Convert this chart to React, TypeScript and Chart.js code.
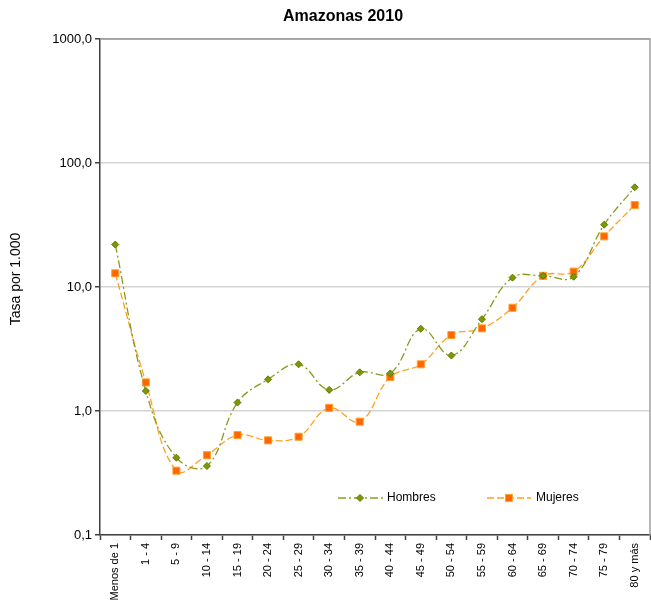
import React, { useEffect, useRef } from "react";
import { Chart, registerables } from "chart.js";

Chart.register(...registerables);

const categories = [
  "Menos de 1", "1 - 4", "5 - 9", "10 - 14", "15 - 19", "20 - 24", "25 - 29",
  "30 - 34", "35 - 39", "40 - 44", "45 - 49", "50 - 54", "55 - 59", "60 - 64",
  "65 - 69", "70 - 74", "75 - 79", "80 y más",
];
const hombres = [22.0, 1.45, 0.42, 0.36, 1.17, 1.8, 2.38, 1.48, 2.05, 2.01, 4.6, 2.8, 5.5, 11.9, 12.3, 12.1, 31.8, 63.7];
const mujeres = [12.9, 1.7, 0.33, 0.44, 0.64, 0.58, 0.62, 1.06, 0.82, 1.88, 2.38, 4.1, 4.64, 6.8, 12.3, 13.3, 25.6, 45.8];
const yTicks = [0.1, 1, 10, 100, 1000];
const title = "Amazonas 2010";
const yTitle = "Tasa por 1.000";

const FONT = "'Liberation Sans', Arial, sans-serif";
const H_LINE = "#8A9A1E";
const H_FILL = "#7A9A00";
const H_BORDER = "#5E7800";
const M_LINE = "#FFA020";
const M_FILL = "#FF6600";
const M_BORDER = "#FFA030";
const H_DASH = [8, 3, 2, 3];
const M_DASH = [7, 3];

const decorPlugin = {
  id: "decor",
  afterDraw(chart: any) {
    const ctx = chart.ctx;
    const a = chart.chartArea;
    ctx.save();
    ctx.strokeStyle = "#A0A0A0";
    ctx.lineWidth = 1.5;
    ctx.beginPath();
    ctx.moveTo(a.left, a.top);
    ctx.lineTo(a.right, a.top);
    ctx.lineTo(a.right, a.bottom);
    ctx.stroke();
    ctx.fillStyle = "#000";
    ctx.font = `bold 16px ${FONT}`;
    ctx.textAlign = "center";
    ctx.textBaseline = "middle";
    ctx.fillText(title, 343, 17);
    ctx.font = `14px ${FONT}`;
    ctx.translate(16, 279);
    ctx.rotate(-Math.PI / 2);
    ctx.fillText(yTitle, 0, 0);
    ctx.setTransform(1, 0, 0, 1, 0, 0);
    const items = [
      { label: "Hombres", x0: 338, x1: 383, mx: 360, tx: 387, line: H_LINE, dash: H_DASH, style: "rectRot", r: 3.5, fill: H_FILL, border: H_BORDER },
      { label: "Mujeres", x0: 487, x1: 531, mx: 509, tx: 536, line: M_LINE, dash: M_DASH, style: "rect", r: 5, fill: M_FILL, border: M_BORDER },
    ];
    const ly = 498;
    for (const it of items) {
      ctx.strokeStyle = it.line;
      ctx.lineWidth = 1.3;
      ctx.setLineDash(it.dash);
      ctx.beginPath();
      ctx.moveTo(it.x0, ly);
      ctx.lineTo(it.x1, ly);
      ctx.stroke();
      ctx.setLineDash([]);
      ctx.fillStyle = it.fill;
      ctx.strokeStyle = it.border;
      ctx.lineWidth = 1;
      ctx.beginPath();
      if (it.style === "rect") {
        const s = it.r * Math.SQRT1_2;
        ctx.rect(it.mx - s, ly - s, 2 * s, 2 * s);
      } else {
        ctx.moveTo(it.mx - it.r, ly);
        ctx.lineTo(it.mx, ly - it.r);
        ctx.lineTo(it.mx + it.r, ly);
        ctx.lineTo(it.mx, ly + it.r);
        ctx.closePath();
      }
      ctx.fill();
      ctx.stroke();
      ctx.fillStyle = "#000";
      ctx.font = `12px ${FONT}`;
      ctx.textAlign = "left";
      ctx.textBaseline = "middle";
      ctx.fillText(it.label, it.tx, ly);
    }
    ctx.restore();
  },
};

export default function App() {
  const ref = useRef<HTMLCanvasElement | null>(null);
  useEffect(() => {
    if (!ref.current) return;
    const chart = new Chart(ref.current, {
      type: "line",
      data: {
        labels: categories,
        datasets: [
          {
            label: "Hombres",
            data: hombres,
            borderColor: H_LINE,
            borderWidth: 1.3,
            borderDash: H_DASH,
            tension: 0.4,
            pointStyle: "rectRot",
            pointRadius: 3.5,
            pointBackgroundColor: H_FILL,
            pointBorderColor: H_BORDER,
            pointBorderWidth: 1,
            fill: false,
          },
          {
            label: "Mujeres",
            data: mujeres,
            borderColor: M_LINE,
            borderWidth: 1.3,
            borderDash: M_DASH,
            tension: 0.4,
            pointStyle: "rect",
            pointRadius: 5,
            pointBackgroundColor: M_FILL,
            pointBorderColor: M_BORDER,
            pointBorderWidth: 1,
            fill: false,
          },
        ],
      },
      options: {
        responsive: false,
        animation: false,
        layout: { autoPadding: false, padding: { top: 39, right: 1, left: 0, bottom: 0 } },
        plugins: {
          legend: { display: false },
          title: { display: false },
          tooltip: { enabled: false },
        },
        scales: {
          x: {
            type: "category",
            offset: true,
            grid: {
              offset: true,
              drawOnChartArea: false,
              drawTicks: true,
              tickLength: 5,
              tickColor: "#404040",
              tickWidth: 1.5,
            },
            border: { color: "#404040", width: 1.5 },
            ticks: {
              minRotation: 90,
              maxRotation: 90,
              autoSkip: false,
              color: "#000",
              font: { family: FONT, size: 11 },
              padding: 3,
            },
            afterFit(scale: any) {
              scale.height = 71;
              scale.paddingLeft = 0;
              scale.paddingRight = 0;
            },
          },
          y: {
            type: "logarithmic",
            min: 0.1,
            max: 1000,
            afterBuildTicks(scale: any) {
              scale.ticks = yTicks.map((v) => ({ value: v }));
            },
            afterFit(scale: any) {
              scale.width = 100;
              scale.paddingTop = 0;
              scale.paddingBottom = 0;
            },
            grid: {
              color: (c: any) => (c.tick && c.tick.value === 1000 ? "#A0A0A0" : "#D4D4D4"),
              lineWidth: 1.5,
              drawTicks: true,
              tickLength: 5,
              tickColor: "#404040",
            },
            border: { color: "#404040", width: 1.5 },
            ticks: {
              color: "#000",
              font: { family: FONT, size: 13 },
              padding: 3,
              callback: (v: any) => Number(v).toFixed(1).replace(".", ","),
            },
          },
        },
      } as any,
      plugins: [decorPlugin],
    });
    return () => chart.destroy();
  }, []);
  return (
    <div style={{ position: "fixed", left: 0, top: 0, width: 651, height: 606, background: "#fff" }}>
      <canvas ref={ref} width={651} height={606} />
    </div>
  );
}
